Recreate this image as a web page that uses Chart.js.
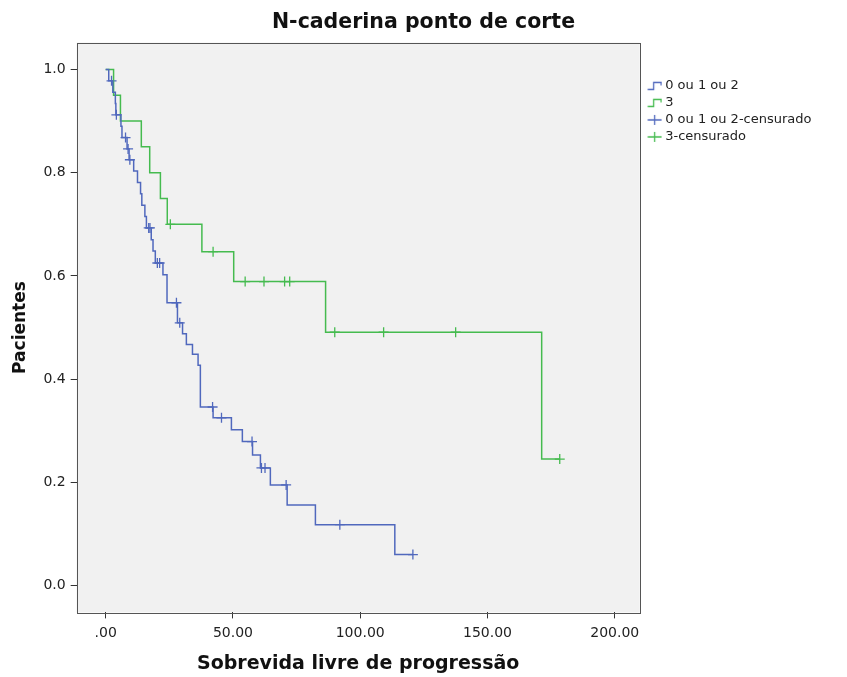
<!DOCTYPE html>
<html>
<head>
<meta charset="utf-8">
<script src="https://cdn.jsdelivr.net/npm/chart.js@4.4.1/dist/chart.umd.min.js"></script>
<style>
  body { margin: 0; background: #fff; }
</style>
</head>
<body>
<canvas id="graficoKM" width="847" height="677"></canvas>
<script>
// grupo "0 ou 1 ou 2": tempos dos eventos e sobrevida logo depois
const tempos012 = [0, 1.2, 2.8, 3.8, 4.0, 6.0, 6.4, 8.4, 9.2, 11.0, 12.5, 13.7, 14.2, 15.4, 16.0, 17.9, 18.6, 19.5, 22.5, 24.1,
                   28.2, 30.2, 31.7, 34.1, 36.3, 37.2, 42.2, 49.4, 53.7, 57.7, 60.8, 64.7, 71.3, 82.4, 113.6, 120.7];
const sobrev012 = [1.0, 0.978, 0.956, 0.934, 0.912, 0.890, 0.868, 0.846, 0.825, 0.803, 0.781, 0.759, 0.737, 0.715, 0.693, 0.670, 0.648, 0.625, 0.602, 0.548,
                   0.509, 0.488, 0.467, 0.448, 0.427, 0.346, 0.325, 0.302, 0.279, 0.253, 0.228, 0.195, 0.156, 0.118, 0.060, 0.060];
const censura012 = [2.3, 4.2, 7.8, 8.8, 9.5, 16.9, 17.4, 20.3, 21.2, 27.8, 29.1, 42.0, 45.5, 57.5, 61.2, 62.6, 70.9, 92.0, 120.7];

// grupo "3"
const tempos3 = [0, 3.1, 5.8, 14.0, 17.3, 21.5, 24.2, 37.8, 50.3, 86.4, 171.3, 178.4];
const sobrev3 = [1.0, 0.95, 0.90, 0.85, 0.80, 0.75, 0.70, 0.647, 0.589, 0.491, 0.245, 0.245];
const censura3 = [25.4, 42.2, 54.8, 62.2, 70.3, 72.3, 90.0, 109.2, 137.5, 178.4];

const ticksX = [0, 50, 100, 150, 200];
const rotulosX = ['.00', '50.00', '100.00', '150.00', '200.00'];
const ticksY = [0, 0.2, 0.4, 0.6, 0.8, 1.0];
const rotulosY = ['0.0', '0.2', '0.4', '0.6', '0.8', '1.0'];

const legendaNomes = ['0 ou 1 ou 2', '3', '0 ou 1 ou 2-censurado', '3-censurado'];
const corAzul = '#5068bd';
const corVerde = '#45bb4f';

// nivel da curva no tempo t (ultimo evento ate t)
function nivelEm(tempos, sobrev, t) {
    let s = sobrev[0];
    tempos.forEach((x, i) => { if (x <= t) s = sobrev[i]; });
    return s;
}

function pontosCurva(tempos, sobrev) {
    return tempos.map((x, i) => ({ x: x, y: sobrev[i] }));
}

function pontosCensura(censura, tempos, sobrev) {
    return censura.map(x => ({ x: x, y: nivelEm(tempos, sobrev, x) }));
}

function iconeDegrau(cor) {
    const c = document.createElement('canvas');
    c.width = 22; c.height = 12;
    const g = c.getContext('2d');
    g.strokeStyle = cor;
    g.lineWidth = 1.3;
    g.beginPath();
    g.moveTo(7.5, 9.5); g.lineTo(13.5, 9.5); g.lineTo(13.5, 2.5); g.lineTo(21, 2.5); g.lineTo(21, 5.5);
    g.stroke();
    return c;
}

function iconeCruz(cor) {
    const c = document.createElement('canvas');
    c.width = 22; c.height = 12;
    const g = c.getContext('2d');
    g.strokeStyle = cor;
    g.lineWidth = 1.3;
    g.beginPath();
    g.moveTo(7.5, 6); g.lineTo(21.5, 6);
    g.moveTo(14.5, 1); g.lineTo(14.5, 11);
    g.stroke();
    return c;
}

const icones = [iconeDegrau(corAzul), iconeDegrau(corVerde), iconeCruz(corAzul), iconeCruz(corVerde)];

const moldura = {
    id: 'moldura',
    afterLayout(chart) {
        // titulo centrado na largura toda, como no original
        if (chart.titleBlock) {
            chart.titleBlock.left = 0;
            chart.titleBlock.right = chart.width;
        }
    },
    beforeDraw(chart) {
        const { ctx, chartArea: a } = chart;
        ctx.save();
        ctx.fillStyle = '#ffffff';
        ctx.fillRect(0, 0, chart.width, chart.height);
        ctx.fillStyle = '#f1f1f1';
        ctx.fillRect(a.left, a.top, a.right - a.left, a.bottom - a.top);
        ctx.restore();
    },
    afterDraw(chart) {
        const { ctx, chartArea: a } = chart;
        ctx.save();
        ctx.strokeStyle = '#555555';
        ctx.lineWidth = 1;
        ctx.strokeRect(Math.round(a.left) + 0.5, Math.round(a.top) + 0.5, Math.round(a.right - a.left), Math.round(a.bottom - a.top));
        ctx.restore();
    }
};

const fonte = 'DejaVu Sans';

new Chart(document.getElementById('graficoKM'), {
    type: 'line',
    data: {
        datasets: [
            {
                label: legendaNomes[0],
                data: pontosCurva(tempos012, sobrev012),
                borderColor: corAzul,
                borderWidth: 1.5,
                stepped: true,
                pointRadius: 0,
                fill: false
            },
            {
                label: legendaNomes[1],
                data: pontosCurva(tempos3, sobrev3),
                borderColor: corVerde,
                borderWidth: 1.5,
                stepped: true,
                pointRadius: 0,
                fill: false
            },
            {
                label: legendaNomes[2],
                type: 'scatter',
                data: pontosCensura(censura012, tempos012, sobrev012),
                pointStyle: 'cross',
                pointRadius: 5,
                borderColor: corAzul,
                borderWidth: 1.3,
                showLine: false
            },
            {
                label: legendaNomes[3],
                type: 'scatter',
                data: pontosCensura(censura3, tempos3, sobrev3),
                pointStyle: 'cross',
                pointRadius: 5,
                borderColor: corVerde,
                borderWidth: 1.3,
                showLine: false
            }
        ]
    },
    options: {
        responsive: false,
        animation: false,
        layout: { padding: { left: 0, right: 25.5, top: 0, bottom: 0 } },
        scales: {
            x: {
                type: 'linear',
                min: -11.4,
                max: 209.8,
                afterBuildTicks: (eixo) => { eixo.ticks = ticksX.map(v => ({ value: v })); },
                ticks: {
                    callback: (v) => rotulosX[ticksX.indexOf(v)],
                    font: { family: fonte, size: 14 },
                    color: '#222',
                    padding: 7,
                    maxRotation: 0
                },
                grid: { drawOnChartArea: false, tickLength: 6, tickColor: '#333', lineWidth: 1 },
                border: { display: false },
                title: {
                    display: true,
                    text: 'Sobrevida livre de progressão',
                    font: { family: fonte, size: 19, weight: 'bold' },
                    color: '#111',
                    padding: { top: 3, bottom: 2 }
                }
            },
            y: {
                type: 'linear',
                min: -0.052,
                max: 1.052,
                afterBuildTicks: (eixo) => { eixo.ticks = ticksY.map(v => ({ value: v })); },
                ticks: {
                    callback: (v) => rotulosY[ticksY.indexOf(v)],
                    font: { family: fonte, size: 14 },
                    color: '#222',
                    padding: 5
                },
                grid: { drawOnChartArea: false, tickLength: 6, tickColor: '#333', lineWidth: 1 },
                border: { display: false },
                title: {
                    display: true,
                    text: 'Pacientes',
                    font: { family: fonte, size: 17, weight: 'bold' },
                    color: '#111',
                    padding: { top: 10, bottom: 8 }
                }
            }
        },
        plugins: {
            title: {
                display: true,
                text: 'N-caderina ponto de corte',
                font: { family: fonte, size: 20.5, weight: 'bold' },
                color: '#111',
                padding: { top: 10, bottom: 8 }
            },
            legend: {
                position: 'right',
                align: 'start',
                title: { display: true, text: ' ', font: { size: 12 }, padding: { top: 61, bottom: 0 } },
                labels: {
                    usePointStyle: true,
                    pointStyleWidth: 15,
                    padding: 4,
                    color: '#222',
                    font: { family: fonte, size: 13 },
                    generateLabels: () => legendaNomes.map((nome, i) => ({
                        text: nome,
                        pointStyle: icones[i],
                        fillStyle: 'transparent',
                        strokeStyle: 'transparent',
                        lineWidth: 0,
                        hidden: false,
                        datasetIndex: i,
                        fontColor: '#222'
                    }))
                }
            },
            tooltip: { enabled: false }
        }
    },
    plugins: [moldura]
});
</script>
</body>
</html>
